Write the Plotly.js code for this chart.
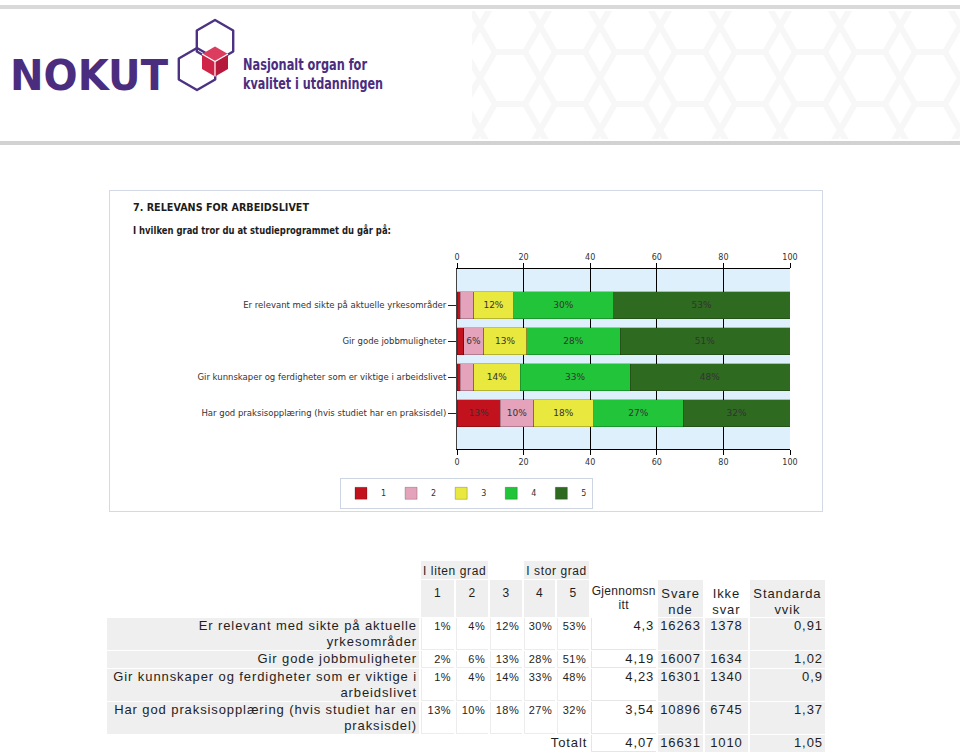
<!DOCTYPE html>
<html>
<head>
<meta charset="utf-8">
<script src="https://cdn.plot.ly/plotly-3.0.1.min.js"></script>
<style>
  html, body { margin:0; padding:0; background:#fff; }
  body { width:960px; height:753px; position:relative; overflow:hidden; }
  .gline { position:absolute; left:0; width:960px; }
  #logo { position:absolute; left:0; top:0; }
  #box { position:absolute; left:109px; top:190px; width:712px; height:320px;
         border:1px solid #d3dae5; background:#fff; }
  #chart { position:absolute; left:0; top:0; width:712px; height:320px; }
  .ttl { position:absolute; left:23px; font-family:"DejaVu Sans", Verdana, sans-serif;
         font-weight:bold; color:#1c1c1c; white-space:nowrap; transform-origin:0 0; }
  #tbl { position:absolute; left:105px; top:560px; border-collapse:separate; border-spacing:2px 1px;
         table-layout:fixed; font-family:"Liberation Sans", Arial, sans-serif; color:#1e1e1e; }
  #tbl td { box-sizing:border-box; vertical-align:top; padding:0 2px 0 2px; line-height:16px;
            font-size:13px; letter-spacing:0.9px; overflow:visible; }
  #tbl td.g { background:#efefef; }
  #tbl td.lab { text-align:right; padding-right:2px; padding-left:0; }
  #tbl td.pc { text-align:right; font-size:11px; letter-spacing:0.5px; padding-right:3px;
               padding-top:1px; line-height:14px; border-left:1px solid #ececec; border-bottom:1px solid #ececec; }
  #tbl td.num { text-align:right; }
  #tbl td.wb { border-left:1px solid #e6e6e6; border-bottom:1px solid #e6e6e6; }
  #tbl td.h1 { font-size:12px; letter-spacing:0.6px; padding-top:3px; text-align:left;
               white-space:nowrap; overflow:visible; line-height:15px; }
  #tbl td.h2 { font-size:12px; letter-spacing:0.6px; padding-top:5px; text-align:center; }
  #tbl td.h2w { font-size:12px; letter-spacing:0.3px; padding:4px 0 0 0; text-align:center;
                line-height:14px; word-break:break-all; }
  #tbl td.h2b { font-size:13px; letter-spacing:0.9px; padding:6px 1px 0 1px; text-align:center;
                line-height:15.5px; overflow-wrap:anywhere; }
</style>
</head>
<body>
<div class="gline" style="top:5px;height:4px;background:#d9d9d9;"></div>
<div class="gline" style="top:141px;height:4px;background:#d2d2d2;"></div>

<svg id="logo" width="960" height="140" xmlns="http://www.w3.org/2000/svg">
  <defs>
    <pattern id="hexpat" width="60" height="52" patternUnits="userSpaceOnUse">
      <path d="M15,0 L45,0 L60,26 L45,52 L15,52 L0,26 Z" fill="none" stroke="#f7f7f7" stroke-width="6"/>
    </pattern>
  </defs>
  <rect x="472" y="11" width="488" height="128" fill="url(#hexpat)"/>
  <text id="nokut" x="10" y="90" font-family="DejaVu Sans, sans-serif" font-weight="bold" font-size="43"
        fill="#4b2d7f" textLength="158" lengthAdjust="spacingAndGlyphs">NOKUT</text>
  <polygon points="215,20 233.2,30.5 233.2,51.5 215,62 196.8,51.5 196.8,30.5"
           fill="none" stroke="#4b3282" stroke-width="2.4" stroke-linejoin="round"/>
  <polygon points="197,48 215.2,58.5 215.2,79.5 197,90 178.8,79.5 178.8,58.5"
           fill="none" stroke="#4b3282" stroke-width="2.4" stroke-linejoin="round"/>
  <polygon points="215,46.5 228,54 215,61.5 202,54" fill="#dc3d5f"/>
  <polygon points="202,54 215,61.5 215,76.5 202,69" fill="#cf2448"/>
  <polygon points="228,54 228,69 215,76.5 215,61.5" fill="#b51a3c"/>
  <polyline points="202,54 215,61.5 228,54" fill="none" stroke="#fff" stroke-width="1.2"/>
  <line x1="215" y1="61.5" x2="215" y2="76.5" stroke="#fff" stroke-width="1.2"/>
  <text x="243" y="70" font-family="Liberation Sans Narrow, DejaVu Sans Condensed, sans-serif" font-weight="bold"
        font-size="16" fill="#4b2d7f" textLength="124" lengthAdjust="spacingAndGlyphs">Nasjonalt organ for</text>
  <text x="243" y="89" font-family="Liberation Sans Narrow, DejaVu Sans Condensed, sans-serif" font-weight="bold"
        font-size="16" fill="#4b2d7f" textLength="140" lengthAdjust="spacingAndGlyphs">kvalitet i utdanningen</text>
</svg>

<div id="box">
  <div id="chart"></div>
  <div class="ttl" id="t1" style="top:11px;font-size:10px;" data-w="176"></div>
  <div class="ttl" id="t2" style="top:33px;font-size:11px;" data-w="258"></div>
</div>

<table id="tbl"></table>

<script>
// ---------- DATA ----------
const categories = [
  "Er relevant med sikte på aktuelle yrkesområder",
  "Gir gode jobbmuligheter",
  "Gir kunnskaper og ferdigheter som er viktige i arbeidslivet",
  "Har god praksisopplæring (hvis studiet har en praksisdel)"
];
const levels = ["1", "2", "3", "4", "5"];
const level1 = [1, 2, 1, 13];
const level2 = [4, 6, 4, 10];
const level3 = [12, 13, 14, 18];
const level4 = [30, 28, 33, 27];
const level5 = [53, 51, 48, 32];
const meanScore   = [4.3, 4.19, 4.23, 3.54];
const respondents = [16263, 16007, 16301, 10896];
const noAnswer    = [1378, 1634, 1340, 6745];
const stdDev      = [0.91, 1.02, 0.9, 1.37];
const totalLabel = "Totalt";
const totalMean = 4.07, totalResp = 16631, totalNoAnswer = 1010, totalStd = 1.05;
const scaleLow = "I liten grad", scaleHigh = "I stor grad";
const statHeaders = ["Gjennomsnitt", "Svarende", "Ikke svar", "Standardavvik"];
const chartTitle = "7. RELEVANS FOR ARBEIDSLIVET";
const chartQuestion = "I hvilken grad tror du at studieprogrammet du går på:";

// ---------- STYLE ----------
const colors = ["#c1121d", "#e4a3bb", "#e8e83e", "#22c43a", "#2f6a21"];
const series = [level1, level2, level3, level4, level5];
const tickFont = {family: "DejaVu Sans, Verdana, sans-serif", size: 8, color: "#333"};

const traces = series.map((vals, i) => ({
  type: "bar",
  orientation: "h",
  name: levels[i],
  y: categories,
  x: vals,
  text: vals.map(v => v >= 5 ? v + "%" : ""),
  textposition: "inside",
  insidetextanchor: "middle",
  textangle: 0,
  constraintext: "none",
  textfont: {family: "DejaVu Sans, Verdana, sans-serif", size: 9, color: "#333"},
  marker: {color: colors[i], line: {color: "rgba(0,0,0,0.28)", width: 0.8}},
  hoverinfo: "skip"
}));
// invisible companion so that the top axis (xaxis2) is drawn
traces.push({
  type: "scatter", mode: "none", x: level1, y: categories, xaxis: "x2",
  showlegend: false, hoverinfo: "skip"
});

const layout = {
  width: 712, height: 320,
  margin: {l: 347, r: 32, t: 78, b: 62, autoexpand: false},
  paper_bgcolor: "rgba(0,0,0,0)",
  plot_bgcolor: "#def0fb",
  barmode: "stack",
  bargap: 0.25,
  showlegend: true,
  legend: {
    orientation: "h", x: 0.0285, xanchor: "center", y: -0.16, yanchor: "top",
    bgcolor: "#fff", bordercolor: "#cdd5e2", borderwidth: 1,
    font: {family: "DejaVu Sans, Verdana, sans-serif", size: 8, color: "#333"},
    traceorder: "normal", itemwidth: 30, tracegroupgap: 0
  },
  xaxis: {
    range: [0, 100], tick0: 0, dtick: 20, ticks: "outside", ticklen: 5, tickcolor: "#000",
    showgrid: true, gridcolor: "#000", gridwidth: 1, zeroline: false,
    showline: true, linecolor: "#000", linewidth: 1, tickfont: tickFont
  },
  xaxis2: {
    overlaying: "x", side: "top", anchor: "y", range: [0, 100], tick0: 0, dtick: 20,
    ticks: "outside", ticklen: 5, tickcolor: "#000", showgrid: false, zeroline: false,
    showline: true, linecolor: "#000", linewidth: 1, tickfont: tickFont
  },
  yaxis: {
    type: "category", range: [4, -1], ticks: "outside", ticklen: 8, tickcolor: "#222",
    showline: true, linecolor: "#444", linewidth: 1, showgrid: false,
    tickfont: {family: "DejaVu Sans, Verdana, sans-serif", size: 8.5, color: "#333"}
  }
};

Plotly.newPlot("chart", traces, layout, {displayModeBar: false, staticPlot: true});

// ---------- TITLES (fit to width) ----------
document.getElementById("t1").textContent = chartTitle;
document.getElementById("t2").textContent = chartQuestion;
["t1", "t2"].forEach(id => {
  const el = document.getElementById(id);
  const w = el.getBoundingClientRect().width;
  el.style.transform = "scaleX(" + (parseFloat(el.dataset.w) / w) + ")";
});

// ---------- TABLE ----------
const fmt = v => String(v).replace(".", ",");
const colW = [312, 32, 31, 32, 31, 32, 65, 44, 43, 75];
let h = "<colgroup>" + colW.map(w => `<col style="width:${w}px">`).join("") + "</colgroup>";
h += `<tr style="height:18px"><td></td><td class="g h1" colspan="2">${scaleLow}</td><td></td>` +
     `<td class="g h1" colspan="2">${scaleHigh}</td><td></td><td></td><td></td><td></td></tr>`;
h += `<tr style="height:37px"><td></td>` + levels.map(l => `<td class="g h2">${l}</td>`).join("") +
     `<td class="h2w">${statHeaders[0]}</td><td class="g h2b">${statHeaders[1]}</td>` +
     `<td class="h2b">${statHeaders[2]}</td><td class="g h2b">${statHeaders[3]}</td></tr>`;
categories.forEach((c, r) => {
  h += `<tr><td class="g lab">${c}</td>` +
       series.map(s => `<td class="pc">${s[r]}%</td>`).join("") +
       `<td class="num wb">${fmt(meanScore[r])}</td>` +
       `<td class="g num">${respondents[r]}</td>` +
       `<td class="g num" style="text-align:center">${noAnswer[r]}</td>` +
       `<td class="g num">${fmt(stdDev[r])}</td></tr>`;
});
h += `<tr><td class="lab" colspan="6">${totalLabel}</td><td class="num wb">${fmt(totalMean)}</td>` +
     `<td class="g num">${totalResp}</td><td class="g num" style="text-align:center">${totalNoAnswer}</td>` +
     `<td class="g num">${fmt(totalStd)}</td></tr>`;
document.getElementById("tbl").innerHTML = h;
</script>
</body>
</html>
